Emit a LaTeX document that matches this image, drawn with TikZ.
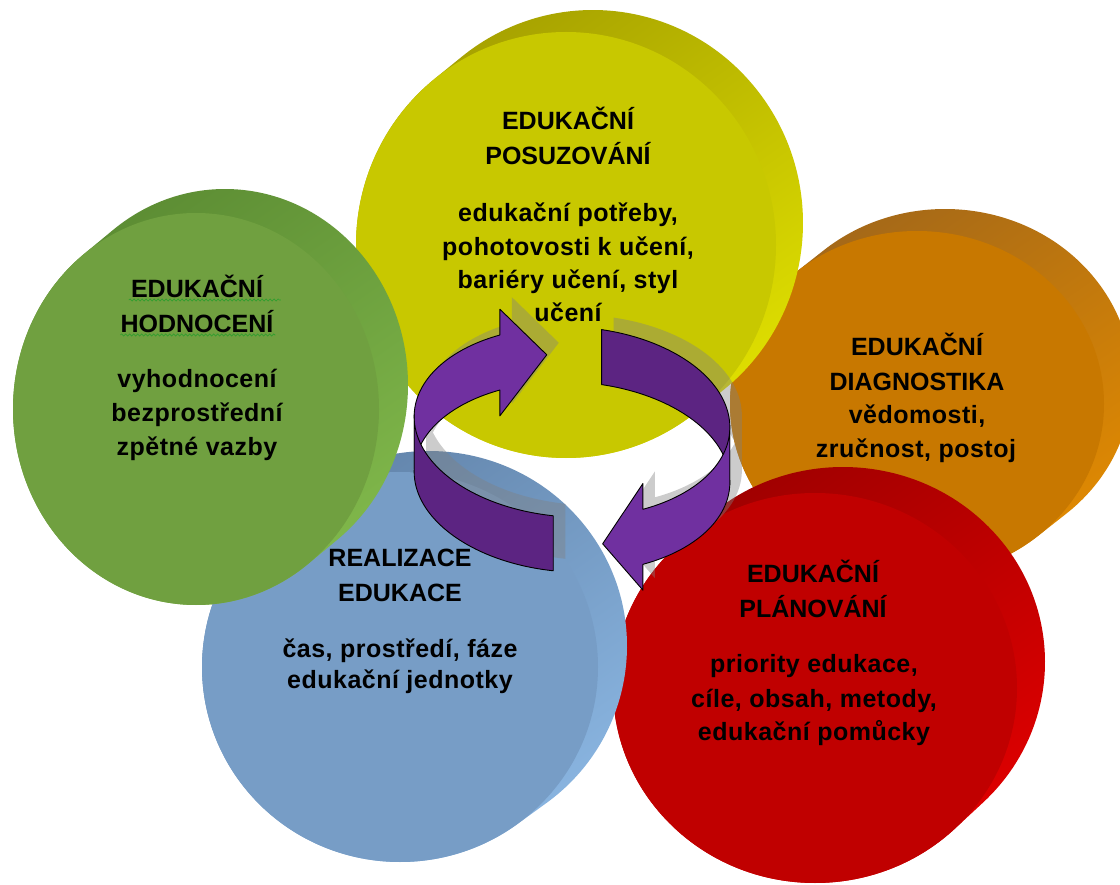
\documentclass[tikz,border=0pt]{standalone}
\usepackage{fontspec}
\setmainfont{Liberation Sans}
\newfontfamily\bodyfont[LetterSpace=2]{Liberation Sans}
\usetikzlibrary{calc,decorations.pathmorphing}

% disk colours: face, top of the rim, lit side of the rim
\definecolor{grFace}{HTML}{70A040}\definecolor{grTop}{HTML}{5A8A32}\definecolor{grLight}{HTML}{82BA4C}
\definecolor{yeFace}{HTML}{C8C800}\definecolor{yeTop}{HTML}{A39E00}\definecolor{yeLight}{HTML}{E3E300}
\definecolor{orFace}{HTML}{C87800}\definecolor{orTop}{HTML}{A0661A}\definecolor{orLight}{HTML}{E38B00}
\definecolor{rdFace}{HTML}{C00000}\definecolor{rdTop}{HTML}{9C0000}\definecolor{rdLight}{HTML}{E20000}
\definecolor{blFace}{HTML}{779DC6}\definecolor{blTop}{HTML}{5F80A6}\definecolor{blLight}{HTML}{8CB8E4}
\definecolor{pLight}{HTML}{7030A0}\definecolor{pDark}{HTML}{5C2482}
\definecolor{squig}{HTML}{2E9E2E}

% a thick disk: front ellipse (cx,cy,rx,ry), back face shifted by (dx,dy)
\newcommand\slabdisk[9]{%
  \pgfmathsetmacro\slabA{atan2(-(#4)*(#5),(#3)*(#6))}%
  \pgfmathsetmacro\slabB{\slabA+180}%
  \pgfmathsetmacro\slabC{\slabA+360}%
  \shade[top color=#8,bottom color=#9,shading angle=35]
    ($(#1,#2)+(#5,#6)+(\slabA:#3 and #4)$)
    arc[start angle=\slabA,end angle=\slabB,x radius=#3,y radius=#4]
    -- ++({-(#5)},{-(#6)})
    arc[start angle=\slabB,end angle=\slabC,x radius=#3,y radius=#4] -- cycle;
  \fill[#7] (#1,#2) ellipse[x radius=#3,y radius=#4];
}

\tikzset{
  ttl/.style={font=\fontsize{25}{30}\selectfont\bfseries,anchor=base,inner sep=0pt},
  txt/.style={font=\bodyfont\fontsize{25}{30}\selectfont\bfseries,anchor=base,inner sep=0pt},
  ring/.style={draw=black,line width=0.9pt,line join=round},
  % rim of the circular band: angle a, height fraction s (0 = upper rim, 1 = lower rim)
  declare function={
    ax(\a)=572+158*cos(\a)*cos(3)-95*sin(\a)*sin(3);
    ay(\a,\s)=422+158*cos(\a)*sin(3)+95*sin(\a)*cos(3)+\s*55;
  }
}

% the four pieces of the two circular arrows
\newcommand\leftback{plot[variable=\t,domain=180:241,samples=40] ({ax(\t)},{ay(\t,0)})
  -- ({ax(241)},{ay(241,-0.47)}) -- ({ax(259)},{ay(259,0.5)}) -- ({ax(241)},{ay(241,1.47)})
  -- plot[variable=\t,domain=241:180,samples=40] ({ax(\t)},{ay(\t,1)}) -- cycle}
\newcommand\leftfront{plot[variable=\t,domain=180:95,samples=40] ({ax(\t)},{ay(\t,0)})
  -- plot[variable=\t,domain=95:180,samples=40] ({ax(\t)},{ay(\t,1)}) -- cycle}
\newcommand\rightback{plot[variable=\t,domain=279:360,samples=40] ({ax(\t)},{ay(\t,0)})
  -- plot[variable=\t,domain=360:279,samples=40] ({ax(\t)},{ay(\t,1)}) -- cycle}
\newcommand\rightfront{plot[variable=\t,domain=0:61.5,samples=40] ({ax(\t)},{ay(\t,0)})
  -- ({ax(61.5)},{ay(61.5,-0.47)}) -- ({ax(77)},{ay(77,0.5)}) -- ({ax(61.5)},{ay(61.5,1.47)})
  -- plot[variable=\t,domain=61.5:0,samples=40] ({ax(\t)},{ay(\t,1)}) -- cycle}

\begin{document}
\begin{tikzpicture}[x=1pt,y=-1pt]
\useasboundingbox (0,0) rectangle (1120,885);
\clip (0,0) rectangle (1120,885);
\fill[white] (0,0) rectangle (1120,885);

% disks, back to front
\slabdisk{917}{404}{187}{173}{28}{-22}{orFace}{orTop}{orLight}
\slabdisk{566}{245}{210}{213}{27}{-22}{yeFace}{yeTop}{yeLight}
\slabdisk{815}{688}{202}{195}{28}{-26}{rdFace}{rdTop}{rdLight}
\slabdisk{400}{667}{198}{195}{29}{-21}{blFace}{blTop}{blLight}
\slabdisk{196}{409}{183}{196}{29}{-24}{grFace}{grTop}{grLight}

% EDUKAČNÍ POSUZOVÁNÍ
\node[ttl] (ye1) at (568,130) {EDUKAČNÍ};
\node[ttl] (ye2) at (568,165) {POSUZOVÁNÍ};
\node[txt] (ye3) at (568,222) {edukační potřeby,};
\node[txt] (ye4) at (568,255.5) {pohotovosti k učení,};
\node[txt] (ye5) at (568,289) {bariéry učení, styl};
\node[txt] (ye6) at (568,322) {učení};

% EDUKAČNÍ HODNOCENÍ
\node[ttl] (gr1) at (197,298) {EDUKAČNÍ};
\node[ttl] (gr2) at (197,333) {HODNOCENÍ};
\node[txt] (gr3) at (197,388) {vyhodnocení};
\node[txt] (gr4) at (197,422) {bezprostřední};
\node[txt] (gr5) at (197,455) {zpětné vazby};
\draw[squig,line width=0.6pt,decorate,decoration={snake,amplitude=1.1pt,segment length=4pt}]
  (gr1.base west) ++(-2,2) -- ++(152,0);
\draw[squig,line width=0.6pt,decorate,decoration={snake,amplitude=1.1pt,segment length=4pt}]
  (gr2.base west) ++(0,2) -- ++(155,0);

% EDUKAČNÍ DIAGNOSTIKA
\node[ttl] (or1) at (917,356) {EDUKAČNÍ};
\node[ttl] (or2) at (917,391) {DIAGNOSTIKA};
\node[txt] (or3) at (917,424) {vědomosti,};
\node[txt] (or4) at (916,457) {zručnost, postoj};

% EDUKAČNÍ PLÁNOVÁNÍ
\node[ttl] (rd1) at (813,582) {EDUKAČNÍ};
\node[ttl] (rd2) at (813,617) {PLÁNOVÁNÍ};
\node[txt] (rd3) at (814,672) {priority edukace,};
\node[txt] (rd4) at (814,707) {cíle, obsah, metody,};
\node[txt] (rd5) at (814,740) {edukační pomůcky};

% REALIZACE EDUKACE
\node[ttl] (bl1) at (400,566) {REALIZACE};
\node[ttl] (bl2) at (400,601) {EDUKACE};
\node[txt] (bl3) at (400,657) {čas, prostředí, fáze};
\node[txt] (bl4) at (400,688) {edukační jednotky};

% soft shadow of the circular arrows
\begin{scope}[shift={(12,-12)},transparency group,opacity=0.4]
  \fill[gray] \leftback;
  \fill[gray] \rightback;
  \fill[gray] \leftfront;
  \fill[gray] \rightfront;
\end{scope}

% circular arrows: far half first, near half on top
\filldraw[ring,fill=pDark] \rightback;
\filldraw[ring,fill=pLight] \leftback;
\filldraw[ring,fill=pDark] \leftfront;
\filldraw[ring,fill=pLight] \rightfront;
\end{tikzpicture}
\end{document}
